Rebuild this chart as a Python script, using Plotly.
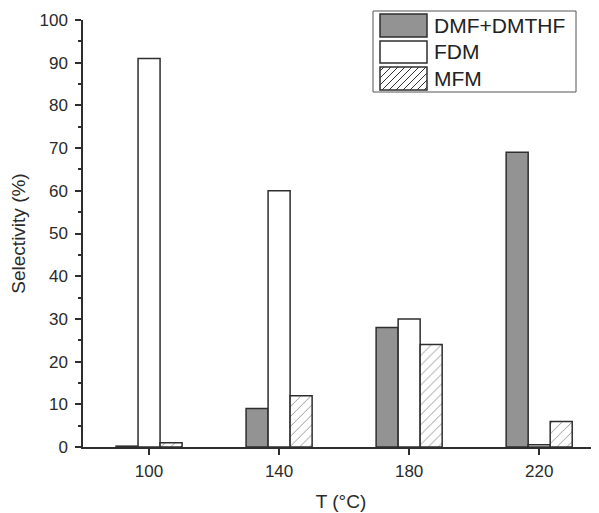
import plotly.graph_objects as go

temps = ["100", "140", "180", "220"]
dmf_dmthf = [0.2, 9, 28, 69]
fdm = [91, 60, 30, 0.5]
mfm = [1, 12, 24, 6]
series_names = ["DMF+DMTHF", "FDM", "MFM"]

OFF = 8  # page body margin
W, H = 599 - OFF, 513 - OFF
# plot area in page pixels: x 83..599, y 20..447
ML, MT = 83 - OFF, 20 - OFF
MR, MB = W - (599 - OFF), H - (447 - OFF)
PW, PH = W - ML - MR, H - MT - MB

def px(x):
    return (x - 83) / PW

def py(y):
    return (447 - y) / PH

edge = "#2e2e2e"
gray = "#939393"
font = "Arial, Liberation Sans, sans-serif"

fig = go.Figure()
fig.add_trace(go.Bar(x=temps, y=dmf_dmthf, name=series_names[0], showlegend=False,
                     marker=dict(color=gray, line=dict(color=edge, width=1.5))))
fig.add_trace(go.Bar(x=temps, y=fdm, name=series_names[1], showlegend=False,
                     marker=dict(color="white", line=dict(color=edge, width=1.5))))
fig.add_trace(go.Bar(x=temps, y=mfm, name=series_names[2], showlegend=False,
                     marker=dict(color="white", line=dict(color=edge, width=1.5),
                                 pattern=dict(shape="/", fgcolor="#333333", bgcolor="white",
                                              size=7, solidity=0.14))))

shapes = []
shapes.append(dict(type="rect", xref="paper", yref="paper", x0=px(373), x1=px(576), y0=py(92), y1=py(11),
                   line=dict(color="#555555", width=1), fillcolor="white", layer="above"))
rows = [(14, 37), (41, 63), (67, 90)]
fills = [gray, "white", "white"]
sx0, sx1 = 380, 427
for (t, b), f in zip(rows, fills):
    shapes.append(dict(type="rect", xref="paper", yref="paper", x0=px(sx0), x1=px(sx1), y0=py(b), y1=py(t),
                       line=dict(color=edge, width=1.5), fillcolor=f, layer="above"))
t, b = rows[2]
c = sx0 + t + 4
while c < sx1 + b:
    xa = max(sx0, c - b)
    xb = min(sx1, c - t)
    if xb > xa:
        shapes.append(dict(type="line", xref="paper", yref="paper", x0=px(xa), y0=py(c - xa),
                           x1=px(xb), y1=py(c - xb), line=dict(color="#333333", width=1), layer="above"))
    c += 7

annotations = []
for (t, b), name in zip(rows, series_names):
    annotations.append(dict(x=px(432), y=py((t + b) / 2), xref="paper", yref="paper", text=name,
                            showarrow=False, xanchor="left", yanchor="middle",
                            font=dict(size=21, color="#222222", family=font)))

fig.update_layout(
    width=W, height=H,
    margin=dict(l=ML, r=MR, t=MT, b=MB, autoexpand=False),
    paper_bgcolor="white", plot_bgcolor="white",
    barmode="group", bargap=0.492, bargroupgap=0,
    font=dict(family=font, color="#2a2a2a", size=16),
    shapes=shapes, annotations=annotations, showlegend=False,
    xaxis=dict(type="category", range=[-0.508, 3.46], showgrid=False, zeroline=False,
               showline=True, linecolor=edge, linewidth=1.5, ticks="outside", ticklen=6,
               tickwidth=1.5, tickcolor=edge, tickfont=dict(size=17), ticklabelstandoff=2,
               title=dict(text="T (°C)", font=dict(size=19), standoff=15)),
    yaxis=dict(range=[0, 100], dtick=10, showgrid=False, zeroline=False,
               showline=True, linecolor=edge, linewidth=1.5, ticks="outside", ticklen=6,
               tickwidth=1.5, tickcolor=edge, tickfont=dict(size=17), ticklabelstandoff=4,
               minor=dict(dtick=5, ticks="outside", ticklen=3, tickcolor=edge, tickwidth=1.5),
               title=dict(text="Selectivity (%)", font=dict(size=19), standoff=12)),
)

fig.write_html("out.html")
